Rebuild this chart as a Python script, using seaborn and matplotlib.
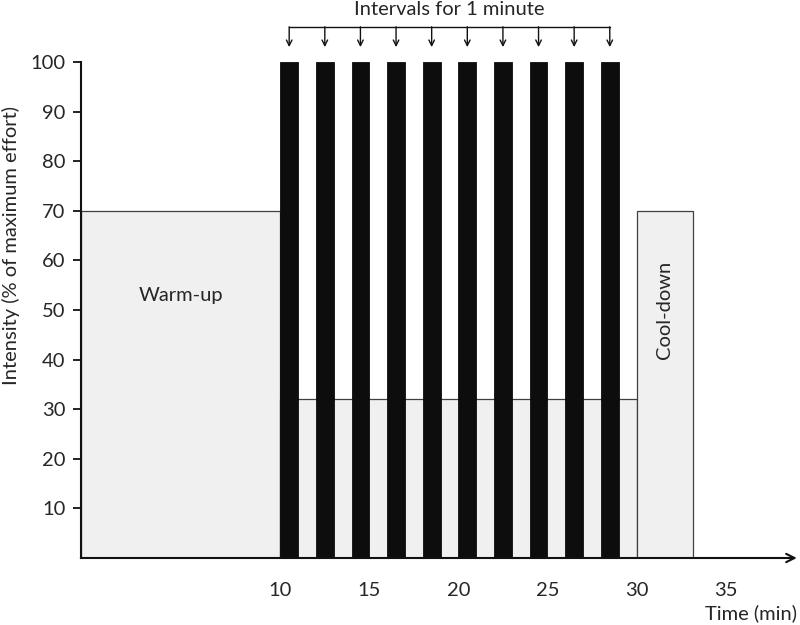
import numpy as np
import matplotlib
matplotlib.use("Agg")
import matplotlib.pyplot as plt
import seaborn as sns

# phases (min, % of max effort)
phase_names = ["Warm-up", "Recovery", "Cool-down"]
phase_edges = [-1.2, 10, 30, 33.2]
phase_intensity = [70, 32, 70]

# ten 1-minute hard intervals
work_start = [10, 12, 14, 16, 18, 20, 22, 24, 26, 28]
work_end = [11, 13, 15, 17, 19, 21, 23, 25, 27, 29]
work_intensity = [100] * 10

x_ticks = [10, 15, 20, 25, 30, 35]
y_ticks = [10, 20, 30, 40, 50, 60, 70, 80, 90, 100]

FS = 14.5

sns.set_style("white")
plt.rcParams["font.family"] = ["Lato", "DejaVu Sans"]

fig = plt.figure(figsize=(8, 6.25), dpi=100)
ax = fig.add_axes([0.101, 0.1072, 0.895, 0.7936])

# background blocks: warm-up, recovery level, cool-down
centers = [(a + b) / 2 for a, b in zip(phase_edges[:-1], phase_edges[1:])]
sns.histplot(x=centers, weights=phase_intensity, bins=phase_edges, stat="count",
             color="#f0f0f0", alpha=1, edgecolor="#404040", linewidth=0.9, ax=ax)

# black work bars
bins = sorted(set(work_start + work_end))
work_centers = [(a + b) / 2 for a, b in zip(work_start, work_end)]
sns.histplot(x=work_centers, weights=work_intensity, bins=bins, stat="count",
             color="#0d0d0d", alpha=1, edgecolor="#0d0d0d", linewidth=0.6, ax=ax)

ax.set_xlim(phase_edges[0], 39.0)
ax.set_ylim(0, 100)

# axes look
sns.despine(ax=ax, top=True, right=True, bottom=True)
ax.spines["left"].set_color("#111111")
ax.spines["left"].set_linewidth(1.5)
ax.annotate("", xy=(39.0, 0), xytext=(phase_edges[0], 0),
            arrowprops=dict(arrowstyle="->,head_length=0.6,head_width=0.3",
                            lw=1.5, color="#111111", shrinkA=0, shrinkB=0),
            annotation_clip=False)

ax.set_yticks(y_ticks)
ax.set_yticklabels([str(v) for v in y_ticks], fontsize=FS)
ax.set_xticks(x_ticks)
ax.set_xticklabels([str(v) for v in x_ticks], fontsize=FS)
ax.tick_params(axis="y", which="major", left=True, length=6, width=1.3,
               color="#111111", pad=5)
ax.tick_params(axis="x", bottom=False, pad=14)

ax.set_ylabel("Intensity (% of maximum effort)", fontsize=FS)
ax.yaxis.set_label_coords(-0.085, 0.63)
ax.set_xlabel("")
ax.text(1.0, -0.112, "Time (min)", transform=ax.transAxes, ha="right",
        va="center", fontsize=FS)

# phase labels
ax.text(centers[0], 53, phase_names[0], ha="center", va="center", fontsize=FS)
ax.text(centers[2], 50, phase_names[2], ha="center", va="center",
        rotation=90, fontsize=FS)

# interval arrows on top
line_y = 107.1
ax.plot([work_centers[0], work_centers[-1]], [line_y, line_y], color="#111111",
        lw=1.0, clip_on=False)
for xc in work_centers:
    ax.annotate("", xy=(xc, 103.0), xytext=(xc, line_y),
                arrowprops=dict(arrowstyle="->", lw=1.0, color="#111111",
                                shrinkA=0, shrinkB=0),
                annotation_clip=False)
ax.text((work_centers[0] + work_centers[-1]) / 2, 110.6, "Intervals for 1 minute",
        ha="center", va="center", fontsize=FS)

fig.savefig("out.png", dpi=100)
